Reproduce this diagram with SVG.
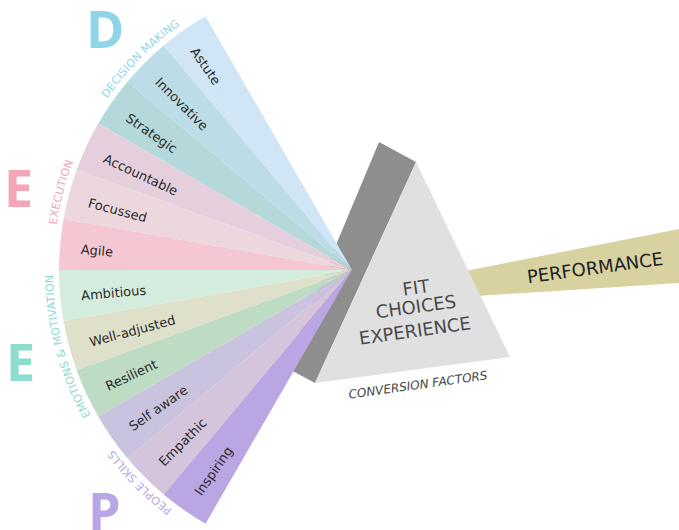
<svg xmlns="http://www.w3.org/2000/svg" width="679" height="530" viewBox="0 0 679 530">
<style>
.w{font-family:"DejaVu Sans","Liberation Sans",sans-serif;font-size:13px;fill:#2b2b2b}
.cat{font-family:"DejaVu Sans","Liberation Sans",sans-serif;font-size:11px;letter-spacing:0.2px}
.big{font-family:"Open Sans","DejaVu Sans",sans-serif;font-size:52px;font-weight:700}
.pr{font-family:"DejaVu Sans","Liberation Sans",sans-serif;font-size:18px;fill:#4a4a4a;text-anchor:middle}
</style>
<defs>
<path id="arcD" d="M81,143.6 A299,299 0 0 1 225.6,-1"/>
<path id="arcE1" d="M54.1,296.1 A299,299 0 0 1 107.1,98.5"/>
<path id="arcE2" d="M107.1,441.5 A299,299 0 0 1 54.1,243.9"/>
<path id="arcP" d="M225.6,541 A299,299 0 0 1 81,396.4"/>
</defs>
<rect width="679" height="530" fill="#ffffff"/>

<g id="prism">
<polygon points="379,142 416,162 315,383 285,367" fill="#8e8e8e"/>
<polygon points="460,272 679,229 679,283 460,297" fill="#d8d2a1"/>
<polygon points="416,162 510,357 315,383" fill="#e0e0e0"/>
<text class="pr" transform="rotate(-8 416 288)" x="416" y="294">FIT</text>
<text class="pr" transform="rotate(-8 416 307)" x="416" y="313">CHOICES</text>
<text class="pr" transform="rotate(-8 415 331)" x="415" y="337">EXPERIENCE</text>
<text transform="rotate(-8 418 385)" x="418" y="389" text-anchor="middle" font-family="DejaVu Sans, Liberation Sans, sans-serif" font-size="12" font-style="italic" fill="#444">CONVERSION FACTORS</text>
</g>

<g id="performance">
<text class="pr" transform="rotate(-7.7 595 268)" x="595" y="274" style="fill:#222">PERFORMANCE</text>
</g>

<g id="fan">
<g id="astute"><path d="M352,270 L163.7,45.5 A293,293 0 0 1 205.5,16.3 Z" fill="#d0e6f6"/><text class="w" x="80" y="273" dy="0.35em" transform="rotate(55 352 270)">Astute</text></g>
<g id="innovative"><path d="M352,270 L127.5,81.7 A293,293 0 0 1 163.7,45.5 Z" fill="#bcdde8"/><text class="w" x="80" y="273" dy="0.35em" transform="rotate(45 352 270)">Innovative</text></g>
<g id="strategic"><path d="M352,270 L98.3,123.5 A293,293 0 0 1 127.5,81.7 Z" fill="#b5d9db"/><text class="w" x="80" y="273" dy="0.35em" transform="rotate(35 352 270)">Strategic</text></g>
<g id="accountable"><path d="M352,270 L76.7,169.8 A293,293 0 0 1 98.3,123.5 Z" fill="#e5cfdd"/><text class="w" x="80" y="273" dy="0.35em" transform="rotate(25 352 270)">Accountable</text></g>
<g id="focussed"><path d="M352,270 L63.5,219.1 A293,293 0 0 1 76.7,169.8 Z" fill="#ecd8dc"/><text class="w" x="80" y="273" dy="0.35em" transform="rotate(15 352 270)">Focussed</text></g>
<g id="agile"><path d="M352,270 L59,270 A293,293 0 0 1 63.5,219.1 Z" fill="#f5c7d3"/><text class="w" x="80" y="273" dy="0.35em" transform="rotate(5 352 270)">Agile</text></g>
<g id="ambitious"><path d="M352,270 L63.5,320.9 A293,293 0 0 1 59,270 Z" fill="#d4ecdd"/><text class="w" x="80" y="272" dy="0.35em" transform="rotate(-5 352 270)">Ambitious</text></g>
<g id="well-adjusted"><path d="M352,270 L76.7,370.2 A293,293 0 0 1 63.5,320.9 Z" fill="#dfe0ca"/><text class="w" x="80" y="272" dy="0.35em" transform="rotate(-15 352 270)">Well-adjusted</text></g>
<g id="resilient"><path d="M352,270 L98.3,416.5 A293,293 0 0 1 76.7,370.2 Z" fill="#bedbc4"/><text class="w" x="80" y="272" dy="0.35em" transform="rotate(-25 352 270)">Resilient</text></g>
<g id="self-aware"><path d="M352,270 L127.5,458.3 A293,293 0 0 1 98.3,416.5 Z" fill="#c9c3df"/><text class="w" x="80" y="272" dy="0.35em" transform="rotate(-35 352 270)">Self aware</text></g>
<g id="empathic"><path d="M352,270 L163.7,494.5 A293,293 0 0 1 127.5,458.3 Z" fill="#d5c5dc"/><text class="w" x="80" y="272" dy="0.35em" transform="rotate(-45 352 270)">Empathic</text></g>
<g id="inspiring"><path d="M352,270 L205.5,523.7 A293,293 0 0 1 163.7,494.5 Z" fill="#baa6e2"/><text class="w" x="80" y="272" dy="0.35em" transform="rotate(-55 352 270)">Inspiring</text></g>
</g>

<g id="cat-d"><text class="big" x="86" y="48" fill="#8fd5e8">D</text><text class="cat" fill="#8fd5e8"><textPath href="#arcD" startOffset="50%" text-anchor="middle">DECISION MAKING</textPath></text></g>
<g id="cat-e1"><text class="big" x="4" y="207" fill="#f4a6b8">E</text><text class="cat" fill="#f4a6b8"><textPath href="#arcE1" startOffset="50%" text-anchor="middle">EXECUTION</textPath></text></g>
<g id="cat-e2"><text class="big" x="6" y="381" fill="#8ddccf">E</text><text class="cat" fill="#8ddccf"><textPath href="#arcE2" startOffset="50%" text-anchor="middle">EMOTIONS &amp; MOTIVATION</textPath></text></g>
<g id="cat-p"><text class="big" x="88" y="530" fill="#b9a6e4">P</text><text class="cat" fill="#b9a6e4"><textPath href="#arcP" startOffset="50%" text-anchor="middle">PEOPLE SKILLS</textPath></text></g>
</svg>
